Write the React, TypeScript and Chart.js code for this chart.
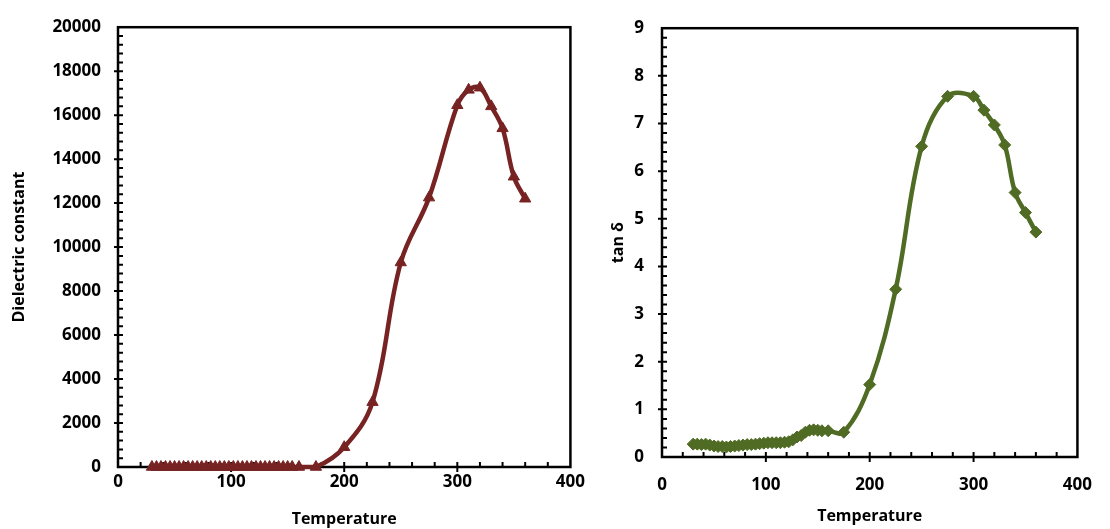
import React, { useEffect, useRef } from "react";
import { Chart, registerables } from "chart.js";

Chart.register(...registerables);

// Measurement temperatures shared by both panels
const temperatures = [
  30, 34, 38, 42, 46, 50, 54, 58, 62, 66, 70, 74, 78, 82, 86, 90, 94, 98, 102, 106,
  110, 114, 118, 122, 126, 130, 134, 138, 142, 146, 150, 154, 160, 175, 200, 225,
  250, 275, 300, 310, 320, 330, 340, 350, 360,
];

// Left panel: dielectric constant
const dielectricConstant = [
  0, 0, 0, 0, 0, 0, 0, 0, 0, 0, 0, 0, 0, 0, 0, 0, 0, 0, 0, 0,
  0, 0, 0, 0, 0, 0, 0, 0, 0, 0, 0, 0, 0, 0, 900, 2950,
  9300, 12250, 16450, 17150, 17250, 16400, 15400, 13200, 12200,
];

// Right panel: loss tangent
const tanDelta = [
  0.27, 0.27, 0.26, 0.27, 0.25, 0.23, 0.22, 0.22, 0.21, 0.22, 0.23, 0.24, 0.25, 0.26,
  0.26, 0.27, 0.28, 0.29, 0.3, 0.3, 0.3, 0.3, 0.31, 0.32, 0.36, 0.42, 0.45, 0.52,
  0.56, 0.57, 0.56, 0.55, 0.55, 0.52, 1.52, 3.52, 6.52, 7.57, 7.57, 7.28, 6.97,
  6.55, 5.55, 5.13, 4.72,
];

const xTicks = [0, 100, 200, 300, 400];
const dielectricTicks = [0, 2000, 4000, 6000, 8000, 10000, 12000, 14000, 16000, 18000, 20000];
const tanTicks = [0, 1, 2, 3, 4, 5, 6, 7, 8, 9];

const FONT = "'Open Sans', 'DejaVu Sans', sans-serif";
const INK = "#000000";

// Plot frame plus Excel-style major (crossing) and minor (inside) tick marks
const frameAndTicks = {
  id: "frameAndTicks",
  beforeDatasetsDraw(chart: any, _args: any, opts: any) {
    const { ctx, chartArea } = chart;
    const { left, right, top, bottom } = chartArea;
    const xs = chart.scales.x;
    const ys = chart.scales.y;
    ctx.save();
    ctx.strokeStyle = INK;
    ctx.lineWidth = 2.5;
    ctx.strokeRect(left, top, right - left, bottom - top);
    ctx.lineWidth = 2;
    ctx.beginPath();
    const nx = Math.round((xs.max - xs.min) / opts.xMinor);
    for (let i = 1; i < nx; i++) {
      const v = xs.min + i * opts.xMinor;
      const px = xs.getPixelForValue(v);
      const major = Math.abs(v / opts.xMajor - Math.round(v / opts.xMajor)) < 1e-6;
      ctx.moveTo(px, bottom - 5);
      ctx.lineTo(px, major ? bottom + 5 : bottom);
    }
    const ny = Math.round((ys.max - ys.min) / opts.yMinor);
    for (let i = 1; i < ny; i++) {
      const v = ys.min + i * opts.yMinor;
      const py = ys.getPixelForValue(v);
      const major = Math.abs(v / opts.yMajor - Math.round(v / opts.yMajor)) < 1e-6;
      ctx.moveTo(major ? left - 4 : left, py);
      ctx.lineTo(left + 5, py);
    }
    ctx.stroke();
    ctx.restore();
  },
};

type PanelProps = {
  values: number[];
  color: string;
  pointStyle: string;
  pointRadius: number;
  yTitle: string;
  yMax: number;
  yStep: number;
  yTickList: number[];
  yMinor: number;
  width: number;
  padRight: number;
  yWidth: number;
  xHeight: number;
  xTickPad: number;
  yTickPad: number;
  xTitlePad: number;
  yTitlePad: number;
};

function Panel(p: PanelProps) {
  const ref = useRef<HTMLCanvasElement | null>(null);

  useEffect(() => {
    if (!ref.current) return;
    const points = temperatures.map((t, i) => ({ x: t, y: p.values[i] }));
    const chart = new Chart(ref.current, {
      type: "line",
      data: {
        datasets: [
          {
            data: points,
            borderColor: p.color,
            backgroundColor: p.color,
            pointBackgroundColor: p.color,
            pointBorderColor: p.color,
            borderWidth: 4.5,
            pointStyle: p.pointStyle as any,
            pointRadius: p.pointRadius,
            pointBorderWidth: 1,
            tension: 0.38,
            clip: false as any,
          },
        ],
      },
      plugins: [frameAndTicks],
      options: {
        responsive: false,
        animation: false,
        events: [],
        layout: {
          autoPadding: false,
          padding: { top: 20, right: p.padRight, bottom: 0, left: 0 },
        },
        plugins: {
          legend: { display: false },
          tooltip: { enabled: false },
          frameAndTicks: { xMinor: 20, xMajor: 100, yMinor: p.yMinor, yMajor: p.yStep },
        } as any,
        scales: {
          x: {
            type: "linear",
            min: 0,
            max: 400,
            afterBuildTicks: (s: any) => {
              s.ticks = xTicks.map((v) => ({ value: v }));
            },
            ticks: {
              color: INK,
              font: { family: FONT, size: 17, weight: "bold" },
              padding: p.xTickPad,
              maxRotation: 0,
              callback: (v: any) => String(v),
            },
            grid: { display: false, drawTicks: false },
            border: { display: false },
            title: {
              display: true,
              text: "Temperature",
              color: INK,
              font: { family: FONT, size: 16, weight: "bold" },
              padding: { top: 0, bottom: p.xTitlePad },
            },
            afterFit: (s: any) => {
              s.height = p.xHeight;
            },
          },
          y: {
            type: "linear",
            min: 0,
            max: p.yMax,
            afterBuildTicks: (s: any) => {
              s.ticks = p.yTickList.map((v) => ({ value: v }));
            },
            ticks: {
              color: INK,
              font: { family: FONT, size: 17, weight: "bold" },
              padding: p.yTickPad,
              callback: (v: any) => String(v),
            },
            grid: { display: false, drawTicks: false },
            border: { display: false },
            title: {
              display: true,
              text: p.yTitle,
              color: INK,
              font: { family: FONT, size: 16, weight: "bold" },
              padding: { top: p.yTitlePad, bottom: 0 },
            },
            afterFit: (s: any) => {
              s.width = p.yWidth;
            },
          },
        },
      } as any,
    });
    return () => chart.destroy();
  }, []);

  return <canvas ref={ref} width={p.width} height={529} style={{ display: "block" }} />;
}

export default function App() {
  return (
    <div
      style={{
        position: "absolute",
        left: 0,
        top: 0,
        width: 1110,
        height: 529,
        background: "#ffffff",
        display: "flex",
      }}
    >
      <Panel
        values={dielectricConstant}
        color="#772323"
        pointStyle="triangle"
        pointRadius={6.5}
        yTitle="Dielectric constant"
        yMax={20000}
        yStep={2000}
        yTickList={dielectricTicks}
        yMinor={400}
        width={590}
        padRight={19}
        yWidth={118}
        xHeight={62}
        xTickPad={5}
        yTickPad={17}
        xTitlePad={0}
        yTitlePad={10}
      />
      <Panel
        values={tanDelta}
        color="#4f6b24"
        pointStyle="rectRot"
        pointRadius={6}
        yTitle="tan δ"
        yMax={9}
        yStep={1}
        yTickList={tanTicks}
        yMinor={0.2}
        width={520}
        padRight={15}
        yWidth={72}
        xHeight={72}
        xTickPad={18}
        yTickPad={18}
        xTitlePad={3}
        yTitlePad={19}
      />
    </div>
  );
}
